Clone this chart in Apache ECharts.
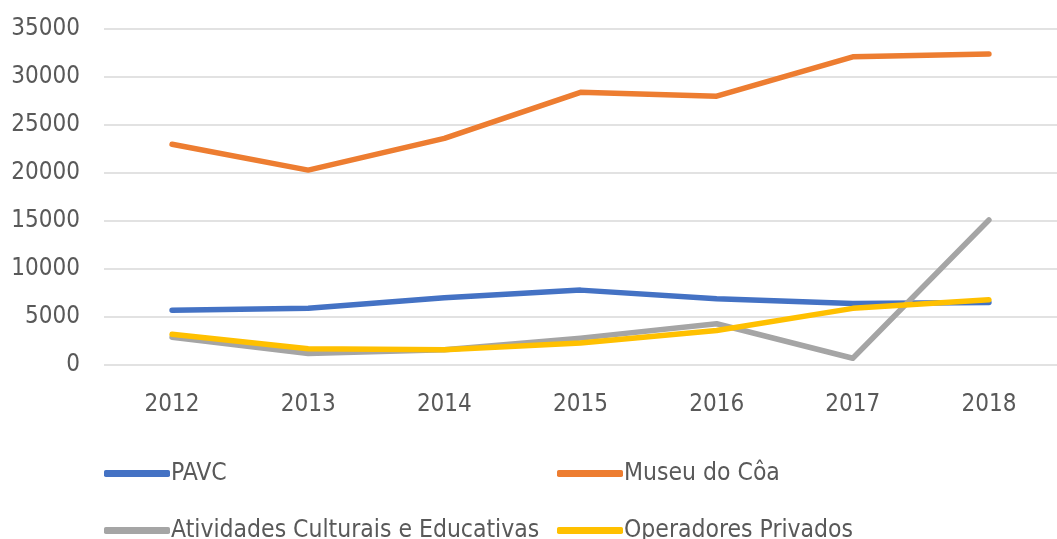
<!DOCTYPE html>
<html>
<head>
<meta charset="utf-8">
<script src="https://cdn.jsdelivr.net/npm/echarts@6/dist/echarts.min.js"></script>
<style>html,body{margin:0;padding:0;background:#fff;}#c{width:1057px;height:539px;}</style>
</head>
<body>
<div id="c"></div>
<script>
const years = ['2012','2013','2014','2015','2016','2017','2018'];
const pavc = [5700, 5900, 7000, 7800, 6900, 6400, 6500];
const museu = [23000, 20300, 23600, 28400, 28000, 32100, 32400];
const atividades = [2900, 1200, 1600, 2800, 4300, 700, 15100];
const operadores = [3200, 1700, 1600, 2300, 3600, 5900, 6800];
const names = ['PAVC', 'Museu do Côa', 'Atividades Culturais e Educativas', 'Operadores Privados'];
const colors = ['#4472C4', '#ED7D31', '#A5A5A5', '#FFC000'];
const font = '"DejaVu Sans Condensed", "Liberation Sans", sans-serif';

const chart = echarts.init(document.getElementById('c'), null, {renderer: 'canvas'});
const legendPos = [
  {left: 99, top: 456},
  {left: 552, top: 456},
  {left: 99, top: 513},
  {left: 552, top: 513}
];
const dataArr = [pavc, museu, atividades, operadores];
chart.setOption({
  animation: false,
  color: colors,
  grid: {left: 104, top: 29, width: 966, bottom: 174, containLabel: false},
  legend: legendPos.map((p, i) => ({
    data: [{name: names[i], icon: 'roundRect'}], left: p.left, top: p.top,
    itemWidth: 66, itemHeight: 7, itemGap: 4,
    itemStyle: {color: colors[i], borderWidth: 0},
    lineStyle: {width: 0},
    textStyle: {color: '#595959', fontSize: 24.5, fontFamily: font, padding: [0,0,0,-4]}
  })),
  xAxis: {
    type: 'category', data: years, boundaryGap: true,
    axisLine: {show: false}, axisTick: {show: false},
    axisLabel: {color: '#595959', fontSize: 24, fontFamily: font, margin: 28}
  },
  yAxis: {
    type: 'value', min: 0, max: 35000, interval: 5000,
    axisLine: {show: false}, axisTick: {show: false},
    axisLabel: {color: '#595959', fontSize: 24, fontFamily: font, margin: 24, formatter: v => String(v)},
    splitLine: {lineStyle: {color: '#D9D9D9', width: 1.5}}
  },
  series: [1, 0, 2, 3].map(i => ({
    name: names[i], type: 'line', data: dataArr[i],
    symbol: 'none', lineStyle: {width: 5.5, color: colors[i], cap: 'round', join: 'round'},
    itemStyle: {color: colors[i]}
  }))
});
</script>
</body>
</html>
